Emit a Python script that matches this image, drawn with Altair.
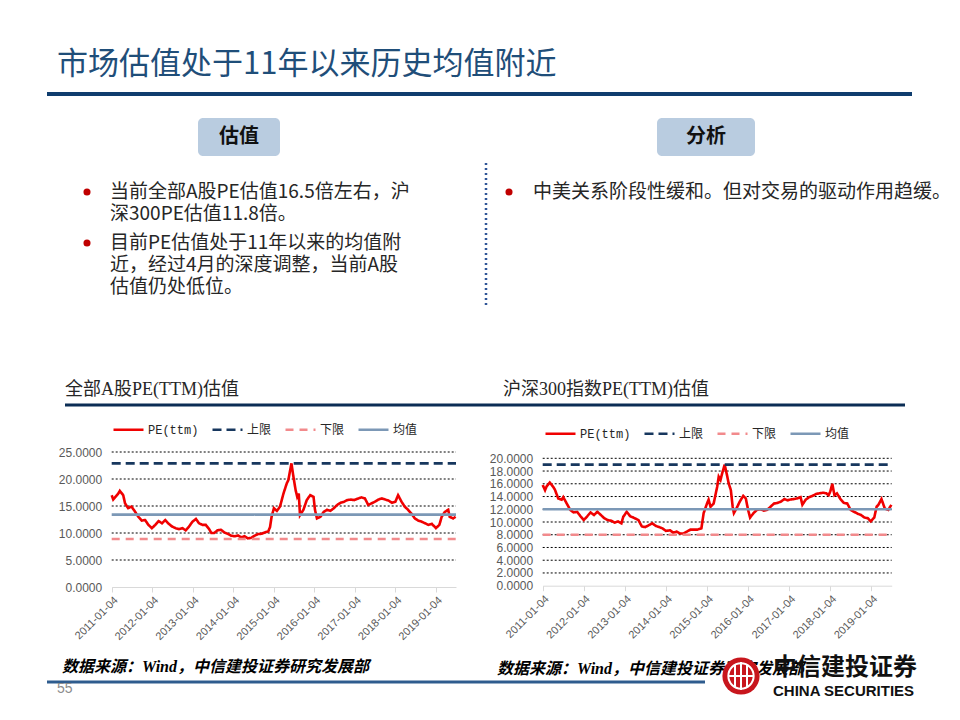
import altair as alt
import pandas as pd

# ---------------- data ----------------
series_names = ["PE(ttm)", "上限", "下限", "均值"]
year_ticks = ["2011-01-04", "2012-01-04", "2013-01-04", "2014-01-04", "2015-01-04",
              "2016-01-04", "2017-01-04", "2018-01-04", "2019-01-04"]
x_start = "2011-01-04"
x_end = "2019-07-04"

# 全部A股 PE(TTM)
a_dates = ["2011-01-04", "2011-01-18", "2011-03-04", "2011-03-18", "2011-04-18", "2011-05-04", "2011-06-01",
           "2011-07-01", "2011-08-01", "2011-09-01", "2011-10-01", "2011-11-01", "2011-12-01",
           "2012-01-01", "2012-02-01", "2012-03-01", "2012-04-01", "2012-05-01", "2012-06-01", "2012-07-01",
           "2012-08-01", "2012-09-01", "2012-10-01", "2012-11-01", "2012-12-01",
           "2013-01-01", "2013-02-01", "2013-03-01", "2013-04-01", "2013-05-01", "2013-06-01", "2013-06-20",
           "2013-07-15", "2013-08-15", "2013-09-15", "2013-10-15", "2013-11-15", "2013-12-15",
           "2014-01-15", "2014-02-15", "2014-03-15", "2014-04-15", "2014-05-15", "2014-06-15", "2014-07-15",
           "2014-08-15", "2014-09-15", "2014-10-15", "2014-11-15", "2014-12-01", "2014-12-15",
           "2015-01-05", "2015-02-01", "2015-03-01", "2015-04-01", "2015-05-01", "2015-05-15", "2015-06-12",
           "2015-06-30", "2015-07-20", "2015-08-03", "2015-08-17", "2015-08-28", "2015-09-28", "2015-10-28",
           "2015-11-28", "2015-12-28",
           "2016-01-10", "2016-01-28", "2016-02-28", "2016-03-28", "2016-04-28", "2016-05-28", "2016-06-28",
           "2016-07-28", "2016-08-28", "2016-09-28", "2016-10-28", "2016-11-28", "2016-12-28",
           "2017-02-04", "2017-03-04", "2017-04-04", "2017-05-04", "2017-06-04", "2017-07-04", "2017-08-04",
           "2017-09-04", "2017-10-04", "2017-11-04", "2017-12-04",
           "2018-01-04", "2018-01-28", "2018-02-28", "2018-03-28", "2018-04-28", "2018-05-28", "2018-06-28",
           "2018-07-28", "2018-08-28", "2018-09-28", "2018-10-28", "2018-11-28",
           "2019-01-04", "2019-02-04", "2019-02-25", "2019-03-25", "2019-04-25", "2019-05-08", "2019-06-08",
           "2019-07-01"]
a_pe = [17.0, 16.2, 17.3, 17.8, 17.0, 15.5, 14.6, 14.9, 14.0, 13.0, 12.3, 12.4, 11.5,
        10.9, 11.5, 12.2, 11.8, 12.4, 11.7, 11.2, 10.9, 10.7, 10.9, 10.5, 11.2,
        12.1, 12.6, 11.8, 11.5, 11.5, 10.7, 10.0, 10.0, 10.5, 10.6, 10.1, 9.85, 9.5,
        9.4, 9.55, 9.2, 9.4, 9.0, 9.1, 9.5, 9.8, 9.85, 10.1, 10.3, 11.1, 13.0,
        14.6, 14.1, 14.9, 17.3, 19.2, 19.8, 22.9, 20.4, 17.9, 16.7, 17.3, 13.3, 14.3, 16.1, 17.0, 16.7,
        14.3, 12.7, 13.0, 13.9, 14.3, 14.1, 14.6, 15.2, 15.6, 15.8, 16.1, 16.2, 16.1,
        16.4, 16.6, 16.4, 15.2, 15.5, 15.8, 16.2, 16.4, 16.2, 16.0, 15.6,
        15.8, 17.0, 15.8, 14.9, 14.3, 13.6, 12.7, 12.3, 12.1, 11.8, 11.5, 11.7,
        10.9, 11.5, 13.0, 13.9, 14.3, 13.0, 12.7, 13.0]
a_upper, a_lower, a_mean = 22.9, 8.9, 13.4
a_yticks = [0, 5, 10, 15, 20, 25]

# 沪深300 PE(TTM)
hs_dates = ["2011-01-04", "2011-01-25", "2011-02-08", "2011-03-08", "2011-04-08", "2011-04-22", "2011-05-22",
            "2011-06-22", "2011-07-06", "2011-08-06", "2011-09-06", "2011-10-06", "2011-11-06", "2011-12-06",
            "2012-01-04", "2012-02-04", "2012-03-04", "2012-04-04", "2012-05-04", "2012-06-04", "2012-07-04",
            "2012-08-04", "2012-09-04", "2012-10-04", "2012-11-04", "2012-12-04", "2012-12-20",
            "2013-01-20", "2013-02-20", "2013-03-20", "2013-05-04", "2013-06-04", "2013-07-04", "2013-08-04",
            "2013-09-04", "2013-10-04", "2013-11-04", "2013-12-04",
            "2014-01-04", "2014-02-10", "2014-03-10", "2014-04-10", "2014-05-10", "2014-06-10", "2014-07-10",
            "2014-08-10", "2014-09-10", "2014-10-10", "2014-11-15", "2014-12-05",
            "2015-01-04", "2015-01-18", "2015-02-04", "2015-03-04", "2015-04-04", "2015-04-18", "2015-05-04",
            "2015-05-18", "2015-06-10", "2015-06-30", "2015-07-15", "2015-08-04", "2015-08-20", "2015-08-31",
            "2015-09-22", "2015-10-22", "2015-11-22", "2015-12-15",
            "2016-01-04", "2016-01-22", "2016-02-22", "2016-03-22", "2016-04-22", "2016-05-22", "2016-06-22",
            "2016-07-22", "2016-08-22", "2016-09-22", "2016-10-22", "2016-11-22", "2016-12-22",
            "2017-01-04", "2017-02-15", "2017-03-15", "2017-04-15", "2017-05-01", "2017-05-30", "2017-06-30",
            "2017-07-30", "2017-08-30", "2017-09-30", "2017-10-30", "2017-11-30", "2017-12-20",
            "2018-01-04", "2018-01-22", "2018-02-10", "2018-03-04", "2018-04-04", "2018-05-04", "2018-06-04",
            "2018-07-04", "2018-08-04", "2018-09-04", "2018-10-04", "2018-11-04", "2018-12-04", "2018-12-30",
            "2019-01-30", "2019-02-20", "2019-03-08", "2019-04-04", "2019-05-04", "2019-06-04", "2019-07-01"]
hs_pe = [15.8, 15.0, 15.6, 16.2, 15.5, 15.1, 13.7, 13.5, 13.9, 12.9, 11.9, 11.5, 11.6, 10.9,
         10.3, 10.9, 11.5, 11.1, 11.6, 11.1, 10.6, 10.3, 10.2, 9.9, 10.1, 9.8, 10.8,
         11.6, 10.9, 10.7, 10.3, 9.3, 9.2, 9.5, 9.8, 9.4, 9.2, 9.0,
         8.6, 8.7, 8.3, 8.5, 8.2, 8.2, 8.5, 8.8, 8.8, 8.8, 9.0, 11.4,
         12.9, 13.5, 12.4, 12.9, 15.5, 17.1, 16.6, 17.6, 19.0, 17.4, 16.1, 15.0, 12.4, 11.4, 12.1, 13.2, 14.1, 13.7,
         11.9, 10.7, 11.4, 11.9, 12.0, 11.8, 11.9, 12.4, 12.9, 13.0, 13.2, 13.6, 13.4,
         13.5, 13.6, 13.7, 13.9, 12.7, 13.5, 13.9, 14.1, 14.4, 14.5, 14.6, 14.5, 14.2,
         14.8, 16.0, 14.2, 14.5, 13.6, 13.0, 12.9, 11.9, 11.6, 11.3, 11.1, 10.7, 10.6, 10.1,
         10.7, 12.4, 12.7, 13.6, 12.1, 11.9, 12.7]
hs_upper, hs_lower, hs_mean = 19.0, 8.0, 12.0
hs_yticks = [0, 2, 4, 6, 8, 10, 12, 14, 16, 18, 20]

# texts
slide_title = "市场估值处于11年以来历史均值附近"
box_left = "估值"
box_right = "分析"
left_bullet1 = ["当前全部A股PE估值16.5倍左右，沪", "深300PE估值11.8倍。"]
left_bullet2 = ["目前PE估值处于11年以来的均值附", "近，经过4月的深度调整，当前A股", "估值仍处低位。"]
right_bullet1 = ["中美关系阶段性缓和。但对交易的驱动作用趋缓。"]
chart_title_left = "全部A股PE(TTM)估值"
chart_title_right = "沪深300指数PE(TTM)估值"
source_text = "数据来源：Wind，中信建投证券研究发展部"
page_no = "55"
logo_cn = "中信建投证券"
logo_en = "CHINA SECURITIES"

# ---------------- styles ----------------
CJK = "Noto Sans CJK SC"
SERIF_CJK = "'Liberation Serif', 'Noto Sans CJK SC'"
MONO_CJK = "'Liberation Mono', 'Noto Sans CJK SC'"
SANS = "Liberation Sans"
W, H = 944, 704
series_colors = ["#F00000", "#17375E", "#F28A8C", "#7C98B6"]
series_dash = [[1, 0], [9, 5], [8, 6], [1, 0]]


def to_dt(s):
    y, m, d = map(int, s.split("-"))
    return alt.DateTime(year=y, month=m, date=d)


def panel(dates, pe, upper, lower, mean, yticks, xr, yr, x_off, y_off, lx, ly):
    rows = [{"date": d, "value": v, "series": series_names[0]} for d, v in zip(dates, pe)]
    for name, val in zip(series_names[1:], [upper, lower, mean]):
        rows.append({"date": x_start, "value": val, "series": name})
        rows.append({"date": x_end, "value": val, "series": name})
    df = pd.DataFrame(rows)
    df["date"] = pd.to_datetime(df["date"])
    g = yticks[1:]
    grid_df = pd.DataFrame({"date": pd.to_datetime([x_start] * len(g)),
                            "date2": pd.to_datetime([x_end] * len(g)),
                            "value": g})
    xs = alt.Scale(domain=[to_dt(x_start), to_dt(x_end)], range=xr)
    ys = alt.Scale(domain=[yticks[0], yticks[-1]], range=yr, nice=False, zero=False)
    xa = alt.Axis(orient="bottom", offset=x_off, values=[to_dt(t) for t in year_ticks],
                  format="%Y-%m-%d", labelAngle=-45, grid=False, title=None,
                  domainColor="#D9D9D9", tickColor="#D9D9D9", tickSize=5, domainWidth=1,
                  labelFont=SANS, labelFontSize=11, labelColor="#595959",
                  labelOverlap=False, labelFlush=False, labelPadding=2)
    ya = alt.Axis(orient="left", offset=y_off, values=yticks, format=".4f", grid=False,
                  domain=False, ticks=False, title=None, labelPadding=10,
                  labelFont=SANS, labelFontSize=12, labelColor="#595959",
                  labelOverlap=False, labelFlush=False)
    grid = alt.Chart(grid_df).mark_rule(color="#000000", strokeWidth=1, strokeDash=[2, 2]).encode(
        x=alt.X("date:T", scale=xs, axis=xa),
        x2="date2:T",
        y=alt.Y("value:Q", scale=ys, axis=ya),
    )
    legend = alt.Legend(orient="none", legendX=lx, legendY=ly, direction="horizontal", columns=4,
                        title=None, symbolType="stroke", symbolSize=900, symbolStrokeWidth=2.5,
                        labelFont=MONO_CJK, labelFontSize=12, labelColor="#262626",
                        labelOffset=3, columnPadding=8)
    lines = alt.Chart(df).mark_line(strokeWidth=2.6).encode(
        x=alt.X("date:T", scale=xs, axis=xa),
        y=alt.Y("value:Q", scale=ys, axis=ya),
        color=alt.Color("series:N", scale=alt.Scale(domain=series_names, range=series_colors),
                        legend=legend),
        strokeDash=alt.StrokeDash("series:N", scale=alt.Scale(domain=series_names, range=series_dash),
                                  legend=legend),
    )
    return alt.layer(grid, lines)


def one():
    return pd.DataFrame({"k": [0]})


def txt(label, x, y, size, color="#262626", weight="normal", font=CJK, align="left",
        style="normal", baseline="middle", line_height=None):
    kw = {}
    if line_height is not None:
        kw["lineHeight"] = line_height
    return alt.Chart(pd.DataFrame({"label": [label]})).mark_text(
        align=align, baseline=baseline, fontSize=size, font=font, fontWeight=weight,
        fontStyle=style, color=color, lineBreak="\n", **kw
    ).encode(x=alt.value(x), y=alt.value(y), text="label:N")


def hline(x1, x2, y, color, width, dash=None):
    kw = {"strokeDash": dash} if dash else {}
    return alt.Chart(one()).mark_rule(color=color, strokeWidth=width, **kw).encode(
        x=alt.value(x1), x2=alt.value(x2), y=alt.value(y))


def vline(x, y1, y2, color, width, dash=None):
    kw = {"strokeDash": dash} if dash else {}
    return alt.Chart(one()).mark_rule(color=color, strokeWidth=width, **kw).encode(
        x=alt.value(x), y=alt.value(y1), y2=alt.value(y2))


def box(x1, x2, y1, y2, color, radius=0):
    return alt.Chart(one()).mark_rect(color=color, cornerRadius=radius).encode(
        x=alt.value(x1), x2=alt.value(x2), y=alt.value(y1), y2=alt.value(y2))


def dot(x, y, size, color):
    return alt.Chart(one()).mark_circle(color=color, size=size, opacity=1).encode(
        x=alt.value(x), y=alt.value(y))


def ring(x, y, size, color, width):
    return alt.Chart(one()).mark_point(shape="circle", filled=False, color=color, size=size,
                                       strokeWidth=width, opacity=1).encode(
        x=alt.value(x), y=alt.value(y))


BODY = 19
decor_before = [
    txt(slide_title, 49, 57, 31, color="#1F4E79"),
    hline(39, 904, 86, "#0F3D6E", 4),
    box(190, 272, 110, 148, "#B9CCE0", 5),
    txt(box_left, 231, 129, 20, color="#111111", weight="bold", align="center"),
    box(649, 747, 110, 148, "#B9CCE0", 5),
    txt(box_right, 698, 129, 20, color="#111111", weight="bold", align="center"),
    vline(478, 155, 297, "#2F5597", 2.5, [2, 3]),
    dot(79, 184, 50, "#C00000"),
    txt("\n".join(left_bullet1), 102, 184 - 9, BODY, baseline="top", line_height=22),
    dot(79, 235, 50, "#C00000"),
    txt("\n".join(left_bullet2), 102, 235 - 9, BODY, baseline="top", line_height=22),
    dot(501, 184, 50, "#C00000"),
    txt("\n".join(right_bullet1), 525, 184 - 9, BODY, baseline="top", line_height=22),
    txt(chart_title_left, 57, 382, 18, font=SERIF_CJK),
    txt(chart_title_right, 495, 382, 18, font=SERIF_CJK),
    hline(57, 897, 397, "#0B2D55", 3),
]

left_panel = panel(a_dates, a_pe, a_upper, a_lower, a_mean, a_yticks,
                   [103.7, 448], [579, 444], -125, -103.7, 104, 405)
right_panel = panel(hs_dates, hs_pe, hs_upper, hs_lower, hs_mean, hs_yticks,
                    [534.7, 883.7], [577.7, 450.3], -126.3, -534.7, 536, 409)

decor_after = [
    txt(source_text, 54, 659, 16, color="#000000", weight="bold", style="italic", font=SERIF_CJK),
    txt(source_text, 489, 661, 16, color="#000000", weight="bold", style="italic", font=SERIF_CJK),
    hline(39, 697, 674, "#2E5C8E", 3),
    txt(page_no, 49, 681, 14, color="#8C8C8C", font=SANS),
    dot(733, 668, 1385, "#C8161D"),
    ring(733, 668, 640, "#FFFFFF", 2),
    vline(727, 657, 679, "#FFFFFF", 2),
    vline(733, 654, 682, "#FFFFFF", 2),
    vline(739, 657, 679, "#FFFFFF", 2),
    hline(720, 746, 668, "#FFFFFF", 2),
    txt(logo_cn, 765, 660, 24, color="#111111", weight="bold"),
    txt(logo_en, 765, 683, 15, color="#111111", weight="bold", font=SANS),
]

chart = alt.layer(*decor_before, left_panel, right_panel, *decor_after).resolve_scale(
    x="independent", y="independent", color="independent", strokeDash="independent"
).properties(
    width=W, height=H, autosize=alt.AutoSizeParams(type="none"), padding=0, background="#FFFFFF"
).configure_view(stroke=None)

chart.save("out.html", embed_options={"renderer": "svg", "actions": False})
